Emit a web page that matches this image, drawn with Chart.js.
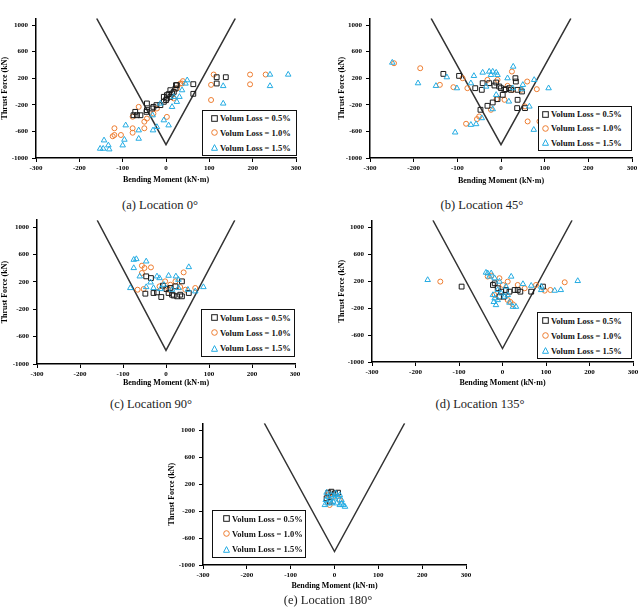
<!DOCTYPE html>
<html>
<head>
<meta charset="utf-8">
<script src="https://cdn.jsdelivr.net/npm/chart.js@4.4.1/dist/chart.umd.min.js"></script>
<style>
body{margin:0;background:#fff;width:642px;height:615px;position:relative;overflow:hidden}
canvas{position:absolute}
.legend{position:absolute;background:#fff;border:1.5px solid #111;box-sizing:border-box;font:bold 8.5px "Liberation Serif",serif;color:#111;display:flex;flex-direction:column;justify-content:space-around;z-index:2}
.legend div{display:flex;align-items:center;white-space:nowrap}
.legend svg{margin-right:2px;flex:none}
.cap{position:absolute;font:12.5px "Liberation Serif",serif;color:#222;transform:translate(-50%,-50%);white-space:nowrap}
</style>
</head>
<body>
<script>
// Thrust force vs bending moment, three volume loss cases, five tunnel locations

const legendLabels = ['Volum Loss = 0.5%', 'Volum Loss = 1.0%', 'Volum Loss = 1.5%'];
const captions = ['(a) Location 0°', '(b) Location 45°', '(c) Location 90°', '(d) Location 135°', '(e) Location 180°'];
const xTitle = 'Bending Moment (kN·m)';
const yTitle = 'Thrust Force (kN)';
const yTickValues = [-1000, -600, -200, 200, 600, 1000];
// V shaped envelope
const envelopeX = [-160, 0, 160];
const envelopeY = [1100, -800, 1100];

// [moment, thrust] pairs
const loc0_vl05 = [[117,215],[138,215],[117,120],[63,110],[63,-35],[23,95],[22,45],[18,-5],[14,-30],[10,-80],[2,-55],[2,-105],[0,-130],[-5,-155],[-13,-205],[-22,-205],[-32,-255],[-44,-180],[-44,-280],[-59,-357],[-71,-306],[-75,-357],[-67,-357],[-45,-306],[-29,-231],[-5,-80],[10,20],[25,95],[6,-40]];
const loc0_vl10 = [[110,255],[194,255],[230,255],[194,108],[104,100],[104,-128],[39,156],[33,120],[25,45],[18,-105],[2,-382],[-29,-332],[-44,-407],[-50,-454],[-50,-553],[-77,-553],[-77,-620],[-104,-654],[-119,-553],[-123,-673],[-119,-654],[-77,-379],[-63,-231],[-21,-256],[37,120]];
const loc0_vl15 = [[240,255],[282,255],[240,83],[132,83],[132,-180],[49,170],[45,120],[37,20],[31,-80],[25,-155],[14,-231],[6,-508],[-5,-432],[-21,-533],[-30,-583],[-63,-583],[-63,-709],[-93,-508],[-96,-724],[-100,-809],[-143,-734],[-152,-859],[-145,-859],[-133,-809],[-131,-869],[-13,-181],[-31,-357],[18,-80]];

const loc45_vl05 = [[-132,265],[-96,235],[-59,50],[-44,25],[-42,125],[-27,125],[-11,135],[-15,90],[-4,75],[0,50],[11,35],[23,25],[34,150],[33,200],[38,25],[48,0],[38,-125],[37,-250],[55,-250],[4,-50],[-8,-115],[-19,-165],[-31,-215],[-47,-275],[8,25],[19,50]];
const loc45_vl10 = [[-245,425],[-185,350],[-140,100],[-109,65],[-77,50],[-88,200],[-55,-415],[-80,-485],[-50,-375],[-23,-275],[-10,-115],[8,-125],[25,300],[46,25],[60,150],[55,-225],[61,-450],[88,-450],[82,35],[-31,175],[-8,175],[27,25],[15,85]];
const loc45_vl15 = [[-249,435],[-190,125],[-149,85],[-124,215],[-101,50],[-105,-615],[-69,-500],[-57,-490],[-44,-400],[-19,-265],[-11,-50],[15,200],[28,375],[18,-150],[50,100],[48,35],[65,-225],[76,175],[75,-575],[109,50],[-62,235],[-42,285],[-27,300],[-19,300],[-11,285],[-8,250],[-23,250],[-69,125],[-34,75],[27,50]];

const loc90_vl05 = [[-46,280],[-35,255],[-48,27],[-29,37],[-21,46],[-11,-22],[1,95],[6,37],[14,12],[22,134],[33,12],[37,207],[53,37],[10,110],[-7,144],[18,0],[26,-12],[37,-12]];
const loc90_vl10 = [[-52,95],[-66,85],[-56,436],[-50,402],[-35,411],[-56,329],[41,338],[10,158],[22,207],[45,85],[68,110],[-15,134],[-2,207],[6,85],[33,124]];
const loc90_vl15 = [[-83,110],[-75,523],[-69,533],[-75,402],[-46,499],[-61,280],[-46,124],[-36,192],[-21,280],[-15,255],[6,290],[23,280],[29,231],[53,416],[29,110],[51,85],[68,61],[87,124],[-13,95],[-5,158],[14,85],[-29,110]];

const loc135_vl05 = [[-94,117],[41,42],[66,42],[93,117],[-18,166],[-11,92],[-3,42],[3,-32],[-7,-32],[8,67],[16,42],[28,67],[35,67],[-22,141]];
const loc135_vl10 = [[-143,191],[143,181],[110,67],[97,57],[77,141],[51,92],[35,141],[12,191],[-7,241],[-34,266],[12,-82],[24,-146],[1,141],[-18,-7],[-26,280],[18,-110]];
const loc135_vl15 = [[-172,216],[173,201],[134,67],[120,57],[89,67],[89,117],[66,131],[47,156],[20,266],[-18,-57],[-15,-156],[-11,-82],[24,-181],[31,-181],[-34,315],[-38,325],[-26,315],[-18,241],[-30,266],[-7,191],[8,117],[5,-32],[12,-7],[-3,17],[-22,-7],[-11,67],[16,-120],[-20,-110]];

const loc180_vl05 = [[-14,72],[-7,86],[1,62],[8,72],[-18,-12],[-11,-62]];
const loc180_vl10 = [[-14,37],[-3,12],[12,-37],[-11,-111]];
const loc180_vl15 = [[-22,-111],[-20,-37],[-14,12],[-7,37],[1,-12],[8,12],[16,-37],[20,-111],[24,-136],[12,-111],[5,-86],[-3,-62],[-11,-27],[-18,72],[3,62],[12,37],[-7,-86],[16,-86],[-16,-86],[0,30]];

const series = [
  [loc0_vl05, loc0_vl10, loc0_vl15],
  [loc45_vl05, loc45_vl10, loc45_vl15],
  [loc90_vl05, loc90_vl10, loc90_vl15],
  [loc135_vl05, loc135_vl10, loc135_vl15],
  [loc180_vl05, loc180_vl10, loc180_vl15]
];

// page geometry of each panel
const layout = [
  {cx:0,   titleX:5,   plotLeft:36,  plotRight:296, y1000:25,  ym1000:158, xTitleY:180, leg:[202,110,95,46,8], cap:[160,205]},
  {cx:321, titleX:342, plotLeft:370, plotRight:632, y1000:25,  ym1000:158, xTitleY:181, leg:[538,106,94,45,3], cap:[482,205]},
  {cx:0,   titleX:5,   plotLeft:37,  plotRight:295, y1000:227, ym1000:364, xTitleY:383, leg:[201,309,94,48,9], cap:[151,404]},
  {cx:321, titleX:342, plotLeft:372, plotRight:633, y1000:227, ym1000:362, xTitleY:383, leg:[537,312,95,47,4], cap:[480,404]},
  {cx:160, titleX:172, plotLeft:203, plotRight:466, y1000:430, ym1000:565, xTitleY:586, leg:[212,510,94,48,10], cap:[328,600]}
];

const colors = ['#1a1a1a', '#ED7D31', '#25ACE3'];
const styles = ['rect', 'circle', 'triangle'];
const radii = [3.4, 2.5, 3.2];
const tickFont = {family:'"Liberation Serif", serif', size:7, weight:'bold'};
const titleFont = {family:'"Liberation Serif", serif', size:8, weight:'bold'};

function toXY(arr){ return arr.map(p => ({x:p[0], y:p[1]})); }

function markerSvg(i){
  const c = colors[i];
  if(i === 0) return `<svg width="7" height="7"><rect x="0.7" y="0.7" width="5.6" height="5.6" fill="none" stroke="${c}" stroke-width="1"/></svg>`;
  if(i === 1) return `<svg width="7" height="7"><circle cx="3.5" cy="3.5" r="2.8" fill="none" stroke="${c}" stroke-width="1"/></svg>`;
  return `<svg width="7" height="7"><polygon points="3.5,0.6 6.5,6.3 0.5,6.3" fill="none" stroke="${c}" stroke-width="1"/></svg>`;
}

function makePanel(g, data, caption){
  const plotTop = g.y1000 - (g.ym1000 - g.y1000)/20;
  const cTop = Math.floor(plotTop) - 8;
  const H = Math.round(g.xTitleY + 6.8 - cTop);
  const W = g.plotRight + 10 - g.cx;
  const xH = H - (g.ym1000 - cTop);
  const yW = g.plotLeft - g.cx;

  const cv = document.createElement('canvas');
  cv.width = W; cv.height = H;
  cv.style.left = g.cx + 'px'; cv.style.top = cTop + 'px';
  document.body.appendChild(cv);

  const datasets = [{
    data: envelopeX.map((x, i) => ({x, y:envelopeY[i]})),
    showLine:true, borderColor:'#333', borderWidth:1.5, pointRadius:0, order:4
  }];
  const order = [2, 3, 1];
  data.forEach((s, i) => datasets.push({
    label: legendLabels[i], data: toXY(s), pointStyle: styles[i], pointRadius: radii[i],
    borderColor: colors[i], backgroundColor:'rgba(0,0,0,0)', borderWidth:1, order: order[i]
  }));

  new Chart(cv, {
    type:'scatter',
    data:{datasets},
    options:{
      responsive:false, animation:false, events:[],
      layout:{padding:{top: plotTop - cTop, right:10, left:0, bottom:0}},
      plugins:{legend:{display:false}, tooltip:{enabled:false}},
      scales:{
        x:{
          type:'linear', min:-300, max:300,
          ticks:{stepSize:100, font:tickFont, color:'#000', padding:2, maxRotation:0, callback:v => String(v)},
          grid:{drawOnChartArea:false, tickLength:4, color:'#000'},
          border:{color:'#000', width:1.5},
          title:{display:true, text:xTitle, font:titleFont, color:'#000', padding:{top:0, bottom:2}},
          afterFit: s => { s.height = xH; }
        },
        y:{
          type:'linear', min:-1000, max:1100,
          afterBuildTicks: s => { s.ticks = yTickValues.map(v => ({value:v})); },
          ticks:{font:tickFont, color:'#000', padding:4, callback:v => String(v)},
          grid:{drawOnChartArea:false, tickLength:4, color:'#000'},
          border:{color:'#000', width:1.5},
          title:{display:true, text:yTitle, font:titleFont, color:'#000', padding:{top:Math.max(0, g.titleX - g.cx - 4.8), bottom:0}},
          afterFit: s => { s.width = yW; }
        }
      }
    }
  });

  const leg = document.createElement('div');
  leg.className = 'legend';
  leg.style.left = g.leg[0] + 'px'; leg.style.top = g.leg[1] + 'px';
  leg.style.width = g.leg[2] + 'px'; leg.style.height = g.leg[3] + 'px';
  leg.style.paddingLeft = g.leg[4] + 'px';
  leg.innerHTML = legendLabels.map((t, i) => `<div>${markerSvg(i)}<span>${t}</span></div>`).join('');
  document.body.appendChild(leg);

  const cap = document.createElement('div');
  cap.className = 'cap';
  cap.textContent = caption;
  cap.style.left = g.cap[0] + 'px'; cap.style.top = g.cap[1] + 'px';
  document.body.appendChild(cap);
}

layout.forEach((g, i) => makePanel(g, series[i], captions[i]));
</script>
</body>
</html>
